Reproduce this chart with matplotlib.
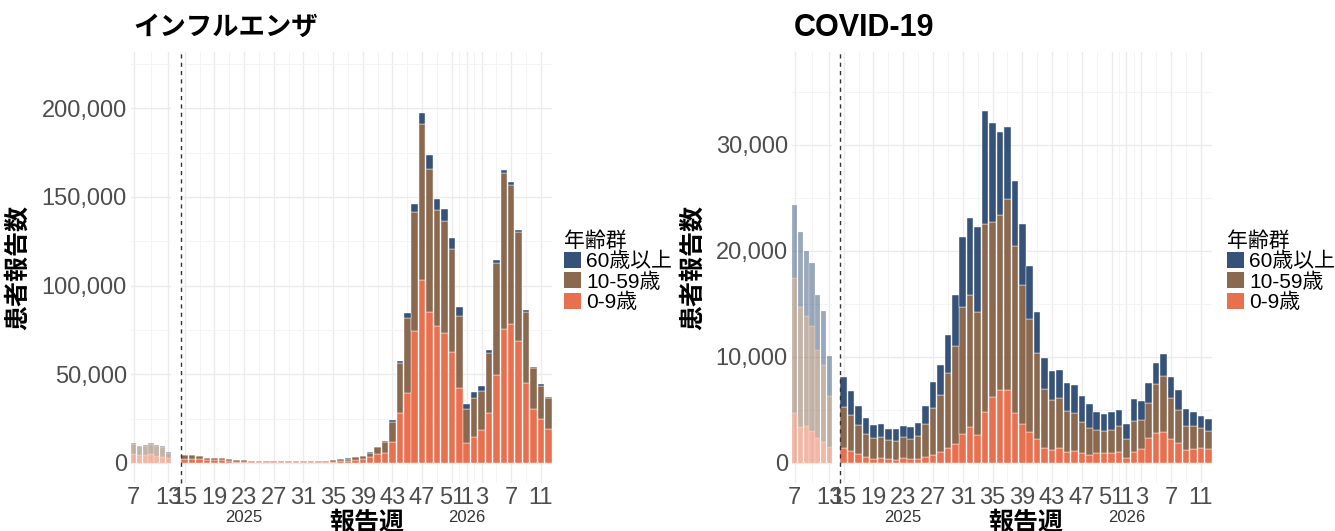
import numpy as np
import matplotlib
matplotlib.use("Agg")
import matplotlib.pyplot as plt
from matplotlib.patches import Patch

plt.rcParams['font.family'] = ['Liberation Sans', 'Noto Sans CJK JP']

# ---- data (reported cases by age group) ----
# faded part: 2025 weeks 7-13
old_weeks = [7, 8, 9, 10, 11, 12, 13]
# main part: 2025 week 15 .. 2026 week 12
weeks_2025 = list(range(15, 53))
weeks_2026 = list(range(1, 13))

flu_old_0_9 = [5100, 4300, 4500, 4900, 3800, 3600, 2600]
flu_old_10_59 = [5600, 5100, 5200, 5800, 5800, 5600, 3100]
flu_old_60 = [400, 400, 400, 400, 400, 400, 300]

flu_0_9 = [2250, 2300, 2000, 1500, 1400, 1400, 1000, 800, 700, 600, 600, 400, 600, 400,
           600, 600, 600, 600, 400, 600, 700, 1000, 1300, 1700, 2100, 3300, 5000,
           5500, 12000, 28400, 39600, 74600, 103200, 85300, 77400, 73100, 62400, 42100,
           11100, 14500, 18600, 28000, 49600, 75500, 78200, 69000, 45300, 30400, 24600, 19200]
flu_10_59 = [2100, 1950, 1750, 1400, 1300, 1300, 1000, 850, 750, 650, 650, 470, 650, 470,
             650, 650, 650, 650, 470, 650, 740, 1020, 1200, 1400, 1700, 2450, 3800,
             6200, 11300, 27800, 42300, 67100, 87900, 80400, 65200, 63500, 58200, 40900,
             19200, 22000, 22000, 33800, 63300, 88100, 78300, 61000, 40000, 23000, 19000, 17300]
flu_60 = [150, 150, 150, 100, 100, 100, 100, 50, 50, 50, 50, 30, 50, 30,
          50, 50, 50, 50, 30, 50, 60, 80, 100, 100, 100, 250, 400,
          900, 900, 1300, 2700, 4300, 6400, 7900, 6200, 6600, 6200, 4900,
          3000, 3500, 2800, 1900, 1500, 1600, 1900, 1300, 900, 700, 900, 700]

cov_old_0_9 = [4690, 3430, 3520, 3020, 2330, 2010, 1540]
cov_old_10_59 = [12730, 11320, 10380, 9930, 8330, 7240, 4810]
cov_old_60 = [6920, 7070, 6130, 5890, 5190, 5090, 3770]

cov_0_9 = [1380, 1160, 850, 540, 410, 470, 380, 310, 440, 350, 380, 570, 790, 1070,
           1380, 1790, 2740, 3430, 2640, 4810, 6260, 6890, 6890, 4690, 3650, 2950, 2260,
           1450, 1230, 1380, 1000, 1130, 910, 750, 970, 910, 970, 1070,
           440, 1000, 1320, 2390, 2860, 2950, 2230, 1850, 1230, 1350, 1450, 1290]
cov_10_59 = [3870, 3400, 2730, 2200, 1980, 1950, 1790, 1790, 1980, 1950, 2170, 3110, 4370, 5380,
             7080, 9280, 11980, 12420, 11610, 17740, 16480, 16510, 17990, 15780, 13110, 10610, 8090,
             5500, 4710, 4720, 3940, 3620, 2990, 2580, 2140, 2110, 2140, 2420,
             1860, 2990, 2740, 3300, 4560, 5290, 3870, 3150, 2260, 2140, 1880, 1730]
cov_60 = [2890, 2260, 1800, 1470, 1190, 1260, 1040, 1080, 1100, 1130, 1250, 1730, 2450, 2800,
          3590, 4810, 6600, 7230, 7990, 10660, 9360, 7860, 6850, 6130, 5820, 5030, 3920,
          2920, 2740, 2670, 2580, 2610, 2420, 2240, 1730, 1600, 1670, 1510,
          1350, 2020, 1790, 1890, 2040, 2040, 1980, 1890, 1600, 1290, 1130, 1100]

main_tick_weeks = [15, 19, 23, 27, 31, 35, 39, 43, 47, 51, 1, 3, 7, 11]
main_tick_year = [2025, 2025, 2025, 2025, 2025, 2025, 2025, 2025, 2025, 2025, 2026, 2026, 2026, 2026]
old_tick_weeks = [7, 13]

groups = ["0-9歳", "10-59歳", "60歳以上"]
colors = ["#e8704f", "#8b6950", "#365279"]

W, H = 1335, 531
fig = plt.figure(figsize=(W / 100, H / 100), dpi=100)


def px_axes(x0, x1, y0, y1):
    return fig.add_axes([x0 / W, 1 - y1 / H, (x1 - x0) / W, (y1 - y0) / H])


def week_pos(w, y):
    # running position: 2025 weeks as is, 2026 weeks after 52
    return w if y == 2025 else 52 + w


def style(ax):
    for s in ax.spines.values():
        s.set_visible(False)
    ax.set_axisbelow(True)
    ax.grid(which="major", color="#ebebeb", lw=1.0)
    ax.grid(which="minor", color="#f4f4f4", lw=0.7)
    ax.tick_params(which="both", length=0, labelsize=17, labelcolor="#4d4d4d", pad=3)


def stack(ax, x, layers, alpha):
    bottom = np.zeros(len(x))
    for vals, c in zip(layers, colors):
        ax.bar(x, vals, bottom=bottom, width=0.88, color=c, alpha=alpha,
               edgecolor="white", linewidth=0.3)
        bottom += np.array(vals)


def panel(px, title, title_size, old_layers, main_layers, ylim, yticks, yminor, leg_x):
    ax_old = px_axes(px[0], px[1], 52, 483)
    ax = px_axes(px[2], px[3], 52, 483)
    for a in (ax_old, ax):
        style(a)
        a.set_ylim(*ylim)
        a.set_yticks(yticks)
        a.set_yticks(yminor, minor=True)

    x_old = np.array(old_weeks)
    stack(ax_old, x_old, old_layers, 0.5)
    ax_old.set_xlim(6.5, 13.5)
    ax_old.set_xticks(old_tick_weeks, [str(w) for w in old_tick_weeks])
    ax_old.set_xticks([10], minor=True)
    ax_old.set_yticklabels([f"{v:,}" for v in yticks])
    ax_old.set_ylabel("患者報告数", fontsize=18, fontweight="bold", labelpad=8)

    x_main = np.array([week_pos(w, 2025) for w in weeks_2025] +
                      [week_pos(w, 2026) for w in weeks_2026])
    stack(ax, x_main, main_layers, 1.0)
    ax.set_xlim(14.5, 64.5)
    tpos = [week_pos(w, y) for w, y in zip(main_tick_weeks, main_tick_year)]
    ax.set_xticks(tpos, [str(w) for w in main_tick_weeks])
    minor = [(a + b) / 2 for a, b in zip(tpos[:-1], tpos[1:])]
    ax.set_xticks(minor, minor=True)
    ax.set_yticklabels([])
    ax.axvline(14.5, color="#333333", lw=1.0, ls=(0, (3, 3)), clip_on=False)
    for w, y in [(23, 2025), (1, 2026)]:
        ax.annotate(str(y), xy=(week_pos(w, y), 0), xycoords=("data", "axes fraction"),
                    xytext=(0, -25), textcoords="offset points", ha="center", va="center",
                    fontsize=12, color="#333333")
    ax.set_xlabel("報告週", fontsize=18, fontweight="bold", labelpad=1)

    fig.text((px[0] + 2) / W, 1 - 28 / H, title, fontsize=title_size, fontweight="bold",
             ha="left", va="center")

    handles = [Patch(facecolor=c) for c in colors[::-1]]
    fig.legend(handles, groups[::-1], title="年齢群", loc="upper left",
               bbox_to_anchor=(leg_x / W, 1 - 227 / H), frameon=False,
               fontsize=15, title_fontsize=15, handlelength=0.8, handleheight=0.8,
               handletextpad=0.25, labelspacing=0.05, borderaxespad=0, borderpad=0.2,
               alignment="left")


panel((131, 171, 181, 552), "インフルエンザ", 19,
      [flu_old_0_9, flu_old_10_59, flu_old_60], [flu_0_9, flu_10_59, flu_60],
      (-11300, 231700), [0, 50000, 100000, 150000, 200000],
      [25000, 75000, 125000, 175000, 225000], 560)

panel((792, 832, 840, 1212), "COVID-19", 22,
      [cov_old_0_9, cov_old_10_59, cov_old_60], [cov_0_9, cov_10_59, cov_60],
      (-1890, 38770), [0, 10000, 20000, 30000],
      [5000, 15000, 25000, 35000], 1223)

fig.savefig("out.png", dpi=100)
